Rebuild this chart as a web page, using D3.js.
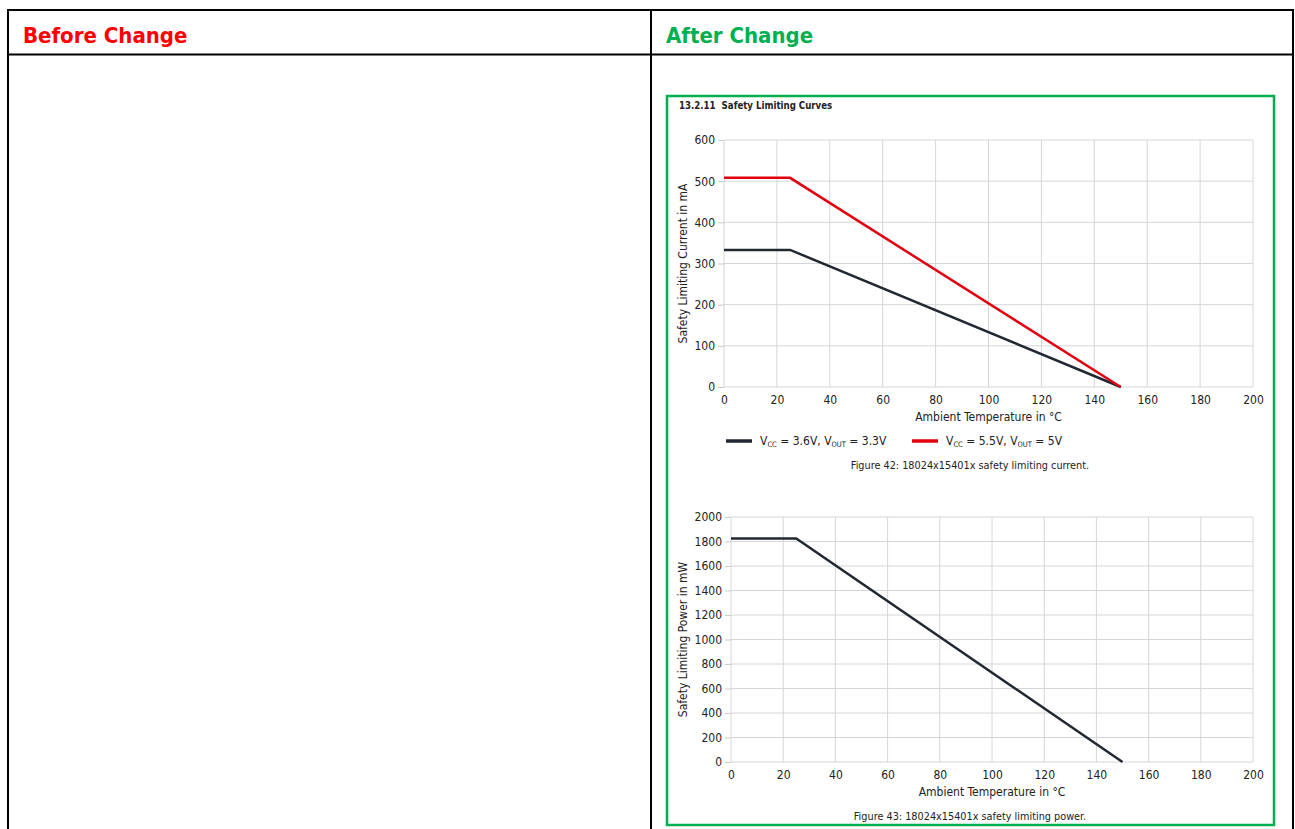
<!DOCTYPE html>
<html lang="en">
<head>
<meta charset="UTF-8">
<title>Safety Limiting Curves</title>
<script src="https://d3js.org/d3.v7.min.js"></script>
<style>
body{margin:0;background:#fff}
svg{display:block}
.chart text{font-family:"DejaVu Sans Condensed","DejaVu Sans",sans-serif;fill:#222}
.hdr{font-family:"DejaVu Sans Condensed","DejaVu Sans",sans-serif;font-weight:bold;font-size:22px}
.grid line{stroke:#d3d6d9;stroke-width:1}
.axis path{display:none}
.axis line{stroke:#c8cbcf}
.axis text{font-size:12px}
</style>
</head>
<body>
<svg id="page" width="1295" height="829"></svg>
<script>
// temperatures where the curve bends
var tempC = [0, 25, 150];
// safety limiting current, mA
var currentLow = [333, 333, 0];   // Vcc 3.6V, Vout 3.3V
var currentHigh = [508, 508, 0];  // Vcc 5.5V, Vout 5V
// safety limiting power, mW
var power = [1824, 1824, 0];

var xTicks = [0, 20, 40, 60, 80, 100, 120, 140, 160, 180, 200];
var currentTicks = [0, 100, 200, 300, 400, 500, 600];
var powerTicks = [0, 200, 400, 600, 800, 1000, 1200, 1400, 1600, 1800, 2000];

var svg = d3.select('#page');

// table frame
svg.append('rect').attr('x', 8).attr('y', 10).attr('width', 1285).attr('height', 830)
  .attr('fill', 'none').attr('stroke', '#000').attr('stroke-width', 2);
svg.append('line').attr('x1', 8).attr('x2', 1293).attr('y1', 54.5).attr('y2', 54.5)
  .attr('stroke', '#000').attr('stroke-width', 2);
svg.append('line').attr('x1', 651).attr('x2', 651).attr('y1', 10).attr('y2', 840)
  .attr('stroke', '#000').attr('stroke-width', 2);
svg.append('text').attr('class', 'hdr').attr('x', 23).attr('y', 43).attr('fill', '#ff0000').text('Before Change');
svg.append('text').attr('class', 'hdr').attr('x', 666).attr('y', 43).attr('fill', '#00b050').text('After Change');

// green box
svg.append('rect').attr('x', 667).attr('y', 96).attr('width', 607).attr('height', 729)
  .attr('fill', 'none').attr('stroke', '#00b050').attr('stroke-width', 2.5);

var chart = svg.append('g').attr('class', 'chart');
chart.append('text').attr('x', 679).attr('y', 109).attr('font-size', '9.6px').attr('font-weight', 'bold')
  .attr('xml:space', 'preserve').text('13.2.11  Safety Limiting Curves');

function panel(opts) {
  var x = d3.scaleLinear().domain([0, 200]).range([opts.left, 1253]);
  var y = d3.scaleLinear().domain([0, opts.yMax]).range([opts.bottom, opts.top]);
  var g = chart.append('g');

  var grid = g.append('g').attr('class', 'grid');
  grid.selectAll('.gx').data(xTicks).join('line')
    .attr('x1', function(d) { return x(d); }).attr('x2', function(d) { return x(d); })
    .attr('y1', opts.top).attr('y2', opts.bottom);
  grid.selectAll('.gy').data(opts.yTicks).join('line')
    .attr('x1', opts.left).attr('x2', 1253)
    .attr('y1', function(d) { return y(d); }).attr('y2', function(d) { return y(d); });

  g.append('g').attr('class', 'axis').attr('transform', 'translate(' + opts.left + ',0)')
    .call(d3.axisLeft(y).tickValues(opts.yTicks).tickFormat(d3.format('d')).tickSize(6).tickPadding(3));
  g.append('g').attr('class', 'axis').attr('transform', 'translate(0,' + opts.bottom + ')')
    .call(d3.axisBottom(x).tickValues(xTicks).tickSize(0).tickPadding(8));

  g.append('text').attr('x', (opts.left + 1253) / 2).attr('y', opts.bottom + 34)
    .attr('text-anchor', 'middle').attr('font-size', '12px').text('Ambient Temperature in °C');
  g.append('text').attr('transform', 'translate(687,' + (opts.top + opts.bottom) / 2 + ') rotate(-90)')
    .attr('text-anchor', 'middle').attr('font-size', '12px').text(opts.yTitle);

  var line = d3.line().x(function(d) { return x(d[0]); }).y(function(d) { return y(d[1]); });
  opts.series.forEach(function(s) {
    g.append('path').datum(d3.zip(tempC, s.values)).attr('d', line)
      .attr('fill', 'none').attr('stroke', s.color).attr('stroke-width', 2.5);
  });

  g.append('text').attr('x', 970).attr('y', opts.captionY).attr('text-anchor', 'middle')
    .attr('font-size', '10.8px').text(opts.caption);
}

panel({
  left: 724, top: 140, bottom: 387, yMax: 600, yTicks: currentTicks,
  yTitle: 'Safety Limiting Current in mA',
  series: [{ values: currentLow, color: '#222831' }, { values: currentHigh, color: '#e3000f' }],
  caption: 'Figure 42: 18024x15401x safety limiting current.', captionY: 469
});
panel({
  left: 731, top: 517, bottom: 762, yMax: 2000, yTicks: powerTicks,
  yTitle: 'Safety Limiting Power in mW',
  series: [{ values: power, color: '#222831' }],
  caption: 'Figure 43: 18024x15401x safety limiting power.', captionY: 820
});

// legend
var legend = [
  { x: 726, color: '#222831', vcc: '3.6V', vout: '3.3V' },
  { x: 912, color: '#e3000f', vcc: '5.5V', vout: '5V' }
];
legend.forEach(function(l) {
  chart.append('line').attr('x1', l.x).attr('x2', l.x + 26).attr('y1', 441).attr('y2', 441)
    .attr('stroke', l.color).attr('stroke-width', 3.5);
  var t = chart.append('text').attr('x', l.x + 34).attr('y', 445).attr('font-size', '12px');
  t.append('tspan').text('V');
  t.append('tspan').attr('font-size', '7.5px').attr('dy', 2).text('CC');
  t.append('tspan').attr('dy', -2).text(' = ' + l.vcc + ', V');
  t.append('tspan').attr('font-size', '7.5px').attr('dy', 2).text('OUT');
  t.append('tspan').attr('dy', -2).text(' = ' + l.vout);
});
</script>
</body>
</html>
